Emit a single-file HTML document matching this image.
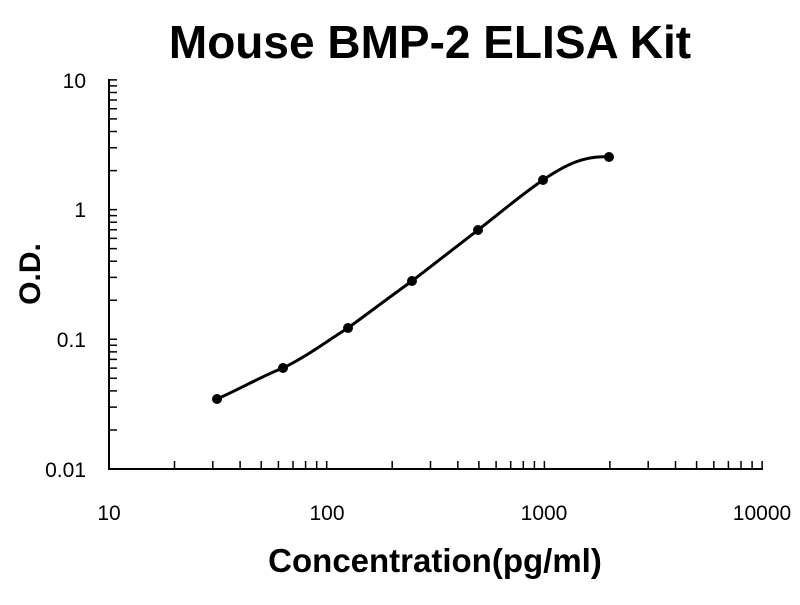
<!DOCTYPE html>
<html><head><meta charset="utf-8"><style>
body{margin:0;background:#fff;}
svg text{font-family:"Liberation Sans",Arial,sans-serif;}
</style></head><body>
<svg width="800" height="600" xmlns="http://www.w3.org/2000/svg">
<rect width="800" height="600" fill="#fff"/>
<text x="430" y="58" font-size="46" font-weight="bold" text-anchor="middle">Mouse BMP-2 ELISA Kit</text>
<g stroke="#000" stroke-width="2" fill="none">
<line x1="109" y1="79" x2="109" y2="469"/>
<line x1="108" y1="469" x2="763" y2="469"/>
</g>
<path stroke="#000" stroke-width="1.5" fill="none" d="
M109,430h8M109,407.1h8M109,390.9h8M109,378.3h8M109,368.1h8M109,359.4h8M109,351.9h8M109,345.3h8M109,339.3h8
M109,300.3h8M109,277.4h8M109,261.2h8M109,248.6h8M109,238.4h8M109,229.7h8M109,222.2h8M109,215.6h8M109,209.6h8
M109,170.6h8M109,147.7h8M109,131.5h8M109,118.9h8M109,108.7h8M109,100h8M109,92.5h8M109,85.9h8M109,79.9h8
M174.5,469v-8M212.8,469v-8M240.1,469v-8M261.2,469v-8M278.4,469v-8M293,469v-8M305.6,469v-8M316.7,469v-8M326.7,469v-8
M392.2,469v-8M430.5,469v-8M457.8,469v-8M478.9,469v-8M496.1,469v-8M510.7,469v-8M523.3,469v-8M534.4,469v-8M544.4,469v-8
M609.9,469v-8M648.2,469v-8M675.5,469v-8M696.6,469v-8M713.8,469v-8M728.4,469v-8M741,469v-8M752.1,469v-8M762.1,469v-8"/>
<g font-size="21" fill="#000">
<text x="86" y="88" text-anchor="end">10</text>
<text x="86" y="217" text-anchor="end">1</text>
<text x="86" y="347" text-anchor="end">0.1</text>
<text x="86" y="477" text-anchor="end">0.01</text>
<text x="109" y="520" text-anchor="middle">10</text>
<text x="327" y="520" text-anchor="middle">100</text>
<text x="544" y="520" text-anchor="middle">1000</text>
<text x="762" y="520" text-anchor="middle">10000</text>
</g>
<text x="435" y="572" font-size="33" font-weight="bold" text-anchor="middle">Concentration(pg/ml)</text>
<text transform="translate(40,274) rotate(-90)" font-size="30" font-weight="bold" text-anchor="middle">O.D.</text>
<path d="M217,399 C240,389 262,376 283,368 C306,357 327,341 348,328 C370,312 391,296 412,281 C434,264 456,247 478,230 C500,213 521,195 543,180 C565,165 585,155 609,157" stroke="#000" stroke-width="3" fill="none"/>
<g fill="#000">
<circle cx="217" cy="399" r="5"/><circle cx="283" cy="368" r="5"/><circle cx="348" cy="328" r="5"/><circle cx="412" cy="281" r="5"/><circle cx="478" cy="230" r="5"/><circle cx="543" cy="180" r="5"/><circle cx="609" cy="157" r="5"/>
</g>
</svg>
</body></html>
